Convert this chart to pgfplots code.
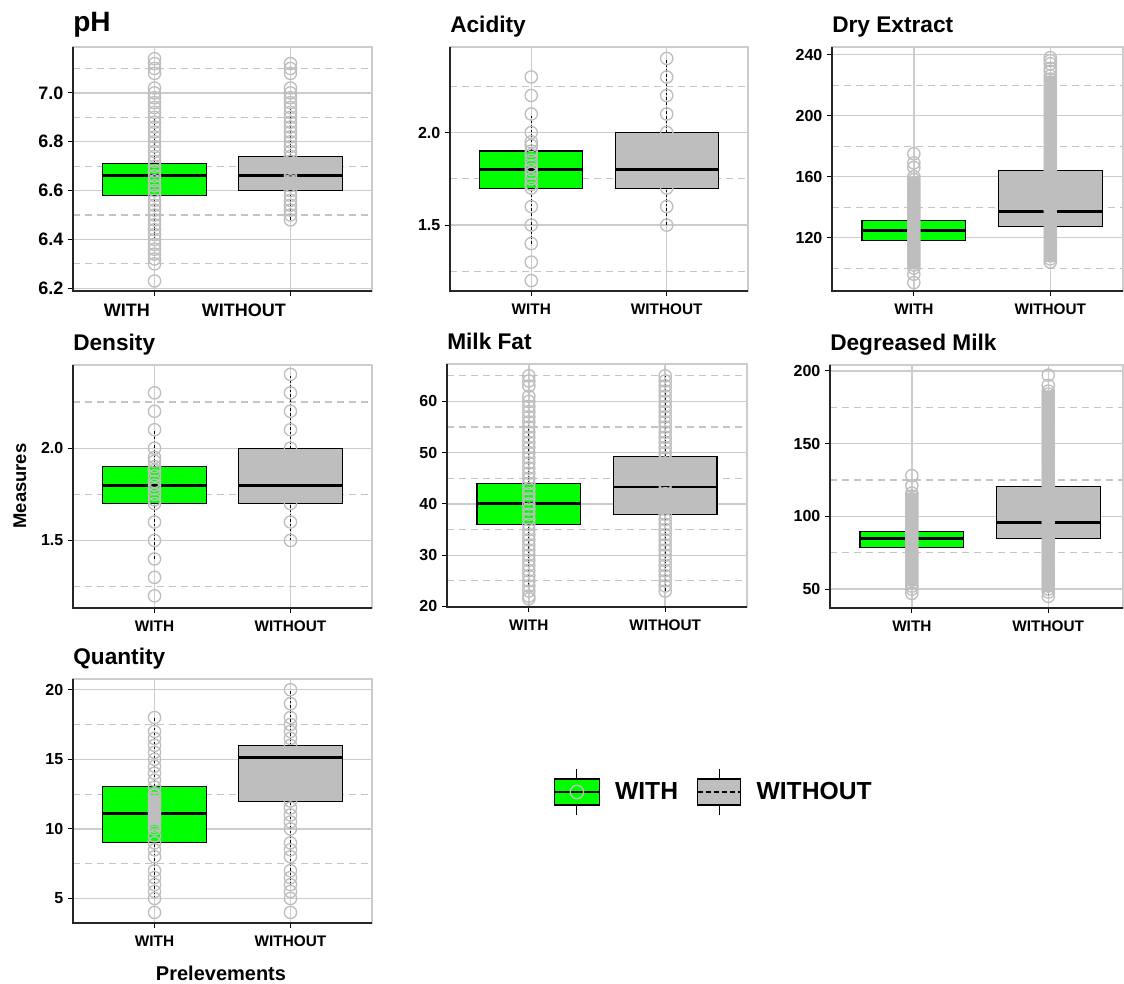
\documentclass[border=0pt]{standalone}
\usepackage{fontspec}
\setmainfont{Liberation Sans}
\usepackage{pgfplots}
\pgfplotsset{compat=1.18}
\definecolor{boxgreen}{HTML}{00FF00}
\definecolor{boxgray}{HTML}{BEBEBE}
\definecolor{ptc}{HTML}{BEBEBE}
\definecolor{gridc}{HTML}{CCCCCC}
\definecolor{gridd}{HTML}{C4C4C4}
\pgfplotsset{
 panel/.style={
  scale only axis, xmin=0.4, xmax=2.6, xtick={1,2}, xticklabels={WITH,WITHOUT},
  xmajorgrids, ymajorgrids, yminorgrids,
  major grid style={draw=gridc, line width=1.05pt},
  minor grid style={draw=gridd, line width=0.9pt, dash pattern=on 5pt off 4pt},
  axis line style={draw=gridc, line width=0.9pt},
  tick align=outside, xtick pos=bottom, ytick pos=left,
  major tick length=3.75pt, minor tick length=0pt,
  tick style={black, line width=0.8pt},
  /pgf/number format/assume math mode=true,
  yticklabel style={font=\bfseries\fontsize{12}{12}\selectfont},
  xticklabel style={font=\bfseries\fontsize{11.5}{11.5}\selectfont, yshift=-2.25pt},
  title style={at={(0,1)}, anchor=base west, yshift=4.5pt, inner sep=0pt, font=\bfseries\fontsize{17}{17}\selectfont},
  after end axis/.code={\draw[black!85, line width=1.4pt] (rel axis cs:0,1) -- (rel axis cs:0,0) -- (rel axis cs:1,0);},
 },
 pts/.style={only marks, mark=o, mark size=4.6pt, mark options={draw=ptc, line width=1pt, solid}},
 band/.style={ptc, line width=9pt},
}
% box: #1 left x, #2 centre x, #3 right x, #4 lower whisker, #5 lower quartile, #6 median, #7 upper quartile, #8 upper whisker, #9 fill
\newcommand{\bxp}[9]{%
 \addplot[black, line width=1pt, dash pattern=on 2pt off 1.5pt] coordinates {(#2,#4)(#2,#5)};
 \addplot[black, line width=1pt, dash pattern=on 2pt off 1.5pt] coordinates {(#2,#7)(#2,#8)};
 \addplot[fill=#9, draw=black, line width=0.8pt] coordinates {(#1,#5)(#3,#5)(#3,#7)(#1,#7)} --cycle;
 \addplot[black, line width=2.2pt] coordinates {(#1,#6)(#3,#6)};
}
\begin{document}
\begin{tikzpicture}
\path[use as bounding box] (0,0) rectangle (843pt,738pt);

% ---------------- pH ----------------
\begin{axis}[panel, at={(54.75pt,519.75pt)}, anchor=south west, width=224.25pt, height=183pt,
  ymin=6.189, ymax=7.188, ytick={6.2,6.4,6.6,6.8,7.0}, yticklabels={6.2,6.4,6.6,6.8,7.0},
  minor ytick={6.3,6.5,6.7,6.9,7.1},
  yticklabel style={font=\bfseries\fontsize{13.5}{13.5}\selectfont},
  xticklabel style={font=\bfseries\fontsize{13.5}{13.5}\selectfont, anchor=north east},
  title={pH}, title style={font=\bfseries\fontsize{21}{21}\selectfont, yshift=0.75pt}]
\bxp{0.62}{1}{1.38}{6.40}{6.58}{6.66}{6.71}{6.90}{boxgreen}
\bxp{1.62}{2}{2.38}{6.48}{6.60}{6.66}{6.74}{6.94}{boxgray}
\addplot[pts] coordinates {(1,6.23)(1,6.30)(1,6.32)(1,6.34)(1,6.36)(1,6.38)(1,6.40)(1,6.42)(1,6.44)(1,6.46)(1,6.48)(1,6.50)(1,6.52)(1,6.54)(1,6.56)(1,6.58)(1,6.60)(1,6.62)(1,6.64)(1,6.66)(1,6.68)(1,6.70)(1,6.72)(1,6.74)(1,6.76)(1,6.78)(1,6.80)(1,6.82)(1,6.84)(1,6.86)(1,6.88)(1,6.90)(1,6.92)(1,6.94)(1,6.96)(1,6.98)(1,7.00)(1,7.02)(1,7.08)(1,7.10)(1,7.12)(1,7.14)};
\addplot[pts] coordinates {(2,6.48)(2,6.50)(2,6.52)(2,6.54)(2,6.56)(2,6.58)(2,6.60)(2,6.62)(2,6.64)(2,6.66)(2,6.68)(2,6.70)(2,6.72)(2,6.74)(2,6.76)(2,6.78)(2,6.80)(2,6.82)(2,6.84)(2,6.86)(2,6.88)(2,6.90)(2,6.92)(2,6.94)(2,6.96)(2,6.98)(2,7.00)(2,7.02)(2,7.08)(2,7.10)(2,7.12)};
\end{axis}

% ---------------- Acidity ----------------
\begin{axis}[panel, at={(337.5pt,519.75pt)}, anchor=south west, width=223.5pt, height=183pt,
  ymin=1.144, ymax=2.462, ytick={1.5,2.0}, yticklabels={1.5,2.0}, minor ytick={1.25,1.75,2.25},
  title={Acidity}]
\bxp{0.62}{1}{1.38}{1.4}{1.7}{1.8}{1.9}{2.1}{boxgreen}
\bxp{1.62}{2}{2.38}{1.5}{1.7}{1.8}{2.0}{2.4}{boxgray}
\addplot[pts] coordinates {(1,1.2)(1,1.3)(1,1.4)(1,1.5)(1,1.6)(1,1.7)(1,1.72)(1,1.75)(1,1.78)(1,1.8)(1,1.82)(1,1.85)(1,1.88)(1,1.9)(1,1.93)(1,1.95)(1,2.0)(1,2.1)(1,2.2)(1,2.3)};
\addplot[pts] coordinates {(2,1.5)(2,1.6)(2,1.7)(2,2.0)(2,2.1)(2,2.2)(2,2.3)(2,2.4)};
\end{axis}

% ---------------- Dry Extract ----------------
\begin{axis}[panel, at={(624pt,519.75pt)}, anchor=south west, width=218.25pt, height=183pt, xmax=2.533,
  ymin=85, ymax=245, ytick={120,160,200,240}, yticklabels={120,160,200,240}, minor ytick={100,140,180,220},
  title={Dry Extract}]
\bxp{0.62}{1}{1.38}{100}{118}{124.5}{131.5}{150}{boxgreen}
\bxp{1.62}{2}{2.38}{104}{127.5}{137}{164}{219}{boxgray}
\addplot[band] coordinates {(1,100)(1,160)};
\addplot[band] coordinates {(2,104)(2,226)};
\addplot[pts] coordinates {(1,90.5)(1,96)(1,100)(1,102)(1,104)(1,106)(1,108)(1,110)(1,112)(1,114)(1,116)(1,118)(1,120)(1,122)(1,124)(1,126)(1,128)(1,130)(1,132)(1,134)(1,136)(1,138)(1,140)(1,142)(1,144)(1,146)(1,148)(1,150)(1,152)(1,154)(1,156)(1,158)(1,160)(1,166)(1,169)(1,175)};
\addplot[pts] coordinates {(2,104)(2,106)(2,108)(2,110)(2,112)(2,114)(2,116)(2,118)(2,120)(2,122)(2,124)(2,126)(2,128)(2,130)(2,132)(2,134)(2,136)(2,138)(2,140)(2,142)(2,144)(2,146)(2,148)(2,150)(2,152)(2,154)(2,156)(2,158)(2,160)(2,162)(2,164)(2,166)(2,168)(2,170)(2,172)(2,174)(2,176)(2,178)(2,180)(2,182)(2,184)(2,186)(2,188)(2,190)(2,192)(2,194)(2,196)(2,198)(2,200)(2,202)(2,204)(2,206)(2,208)(2,210)(2,212)(2,214)(2,216)(2,218)(2,220)(2,222)(2,224)(2,226)(2,229)(2,231)(2,234)(2,236)(2,238)};
\end{axis}

% ---------------- Density ----------------
\begin{axis}[panel, at={(54.75pt,282pt)}, anchor=south west, width=224.25pt, height=182.25pt,
  ymin=1.134, ymax=2.451, ytick={1.5,2.0}, yticklabels={1.5,2.0}, minor ytick={1.25,1.75,2.25},
  title={Density}]
\bxp{0.62}{1}{1.38}{1.4}{1.7}{1.8}{1.9}{2.1}{boxgreen}
\bxp{1.62}{2}{2.38}{1.5}{1.7}{1.8}{2.0}{2.4}{boxgray}
\addplot[pts] coordinates {(1,1.2)(1,1.3)(1,1.4)(1,1.5)(1,1.6)(1,1.7)(1,1.72)(1,1.75)(1,1.78)(1,1.8)(1,1.82)(1,1.85)(1,1.88)(1,1.9)(1,1.93)(1,1.95)(1,2.0)(1,2.1)(1,2.2)(1,2.3)};
\addplot[pts] coordinates {(2,1.5)(2,1.6)(2,1.7)(2,2.0)(2,2.1)(2,2.2)(2,2.3)(2,2.4)};
\end{axis}

% ---------------- Milk Fat ----------------
\begin{axis}[panel, at={(335.25pt,282.75pt)}, anchor=south west, width=225pt, height=182.25pt,
  ymin=19.9, ymax=67.3, ytick={20,30,40,50,60}, yticklabels={20,30,40,50,60}, minor ytick={25,35,45,55,65},
  title={Milk Fat}]
\bxp{0.62}{1}{1.38}{24}{36}{40.1}{44}{56}{boxgreen}
\bxp{1.62}{2}{2.38}{23}{38}{43.3}{49.2}{65}{boxgray}
\addplot[pts] coordinates {(1,21.5)(1,22)(1,23)(1,24)(1,25)(1,26)(1,27)(1,28)(1,29)(1,30)(1,31)(1,32)(1,33)(1,34)(1,35)(1,36)(1,37)(1,38)(1,39)(1,40)(1,41)(1,42)(1,43)(1,44)(1,45)(1,46)(1,47)(1,48)(1,49)(1,50)(1,51)(1,52)(1,53)(1,54)(1,55)(1,56)(1,57)(1,58)(1,59)(1,60)(1,61)(1,63)(1,64)(1,65)};
\addplot[pts] coordinates {(2,23)(2,24)(2,25)(2,26)(2,27)(2,28)(2,29)(2,30)(2,31)(2,32)(2,33)(2,34)(2,35)(2,36)(2,37)(2,38)(2,39)(2,40)(2,41)(2,42)(2,43)(2,44)(2,45)(2,46)(2,47)(2,48)(2,49)(2,50)(2,51)(2,52)(2,53)(2,54)(2,55)(2,56)(2,57)(2,58)(2,59)(2,60)(2,61)(2,62)(2,63)(2,64)(2,65)};
\end{axis}

% ---------------- Degreased Milk ----------------
\begin{axis}[panel, at={(622.5pt,282pt)}, anchor=south west, width=219.75pt, height=182.25pt, xmax=2.548,
  ymin=37, ymax=204, ytick={50,100,150,200}, yticklabels={50,100,150,200}, minor ytick={75,125,175},
  title={Degreased Milk}]
\bxp{0.62}{1}{1.38}{62}{78.3}{85}{89.5}{106}{boxgreen}
\bxp{1.62}{2}{2.38}{45}{84.5}{95.5}{120.5}{176}{boxgray}
\addplot[band] coordinates {(1,52)(1,116)};
\addplot[band] coordinates {(2,48)(2,186)};
\addplot[pts] coordinates {(1,47)(1,50)(1,52)(1,54)(1,56)(1,58)(1,60)(1,62)(1,64)(1,66)(1,68)(1,70)(1,72)(1,74)(1,76)(1,78)(1,80)(1,82)(1,84)(1,86)(1,88)(1,90)(1,92)(1,94)(1,96)(1,98)(1,100)(1,102)(1,104)(1,106)(1,108)(1,110)(1,112)(1,114)(1,116)(1,121)(1,128)};
\addplot[pts] coordinates {(2,45)(2,48)(2,50)(2,52)(2,54)(2,56)(2,58)(2,60)(2,62)(2,64)(2,66)(2,68)(2,70)(2,72)(2,74)(2,76)(2,78)(2,80)(2,82)(2,84)(2,86)(2,88)(2,90)(2,92)(2,94)(2,96)(2,98)(2,100)(2,102)(2,104)(2,106)(2,108)(2,110)(2,112)(2,114)(2,116)(2,118)(2,120)(2,122)(2,124)(2,126)(2,128)(2,130)(2,132)(2,134)(2,136)(2,138)(2,140)(2,142)(2,144)(2,146)(2,148)(2,150)(2,152)(2,154)(2,156)(2,158)(2,160)(2,162)(2,164)(2,166)(2,168)(2,170)(2,172)(2,174)(2,176)(2,178)(2,180)(2,182)(2,184)(2,186)(2,190)(2,197)};
\end{axis}

% ---------------- Quantity ----------------
\begin{axis}[panel, at={(54.75pt,45.75pt)}, anchor=south west, width=224.25pt, height=183pt,
  ymin=3.24, ymax=20.77, ytick={5,10,15,20}, yticklabels={5,10,15,20}, minor ytick={7.5,12.5,17.5},
  title={Quantity}]
\bxp{0.62}{1}{1.38}{5}{9.05}{11.1}{13.05}{18}{boxgreen}
\bxp{1.62}{2}{2.38}{6}{12}{15.1}{16}{20}{boxgray}
\addplot[band] coordinates {(1,10.3)(1,12.4)};
\addplot[pts] coordinates {(1,4)(1,5)(1,5.5)(1,6)(1,6.5)(1,7)(1,8)(1,8.5)(1,9)(1,9.5)(1,10)(1,10.2)(1,10.4)(1,10.6)(1,10.8)(1,11)(1,11.2)(1,11.4)(1,11.6)(1,11.8)(1,12)(1,12.2)(1,12.4)(1,12.5)(1,13)(1,13.5)(1,14)(1,14.5)(1,15)(1,15.5)(1,16)(1,16.5)(1,17)(1,18)};
\addplot[pts] coordinates {(2,4)(2,5)(2,5.5)(2,6)(2,6.5)(2,7)(2,8)(2,8.5)(2,9)(2,10)(2,10.5)(2,11)(2,11.5)(2,12)(2,16)(2,16.5)(2,17)(2,17.5)(2,18)(2,19)(2,20)};
\end{axis}

% ---------------- Legend ----------------
\begin{axis}[at={(414.75pt,144pt)}, anchor=west, scale only axis, width=5pt, height=5pt, hide axis,
  xmin=0, xmax=1, ymin=0, ymax=1, legend columns=2,
  legend style={at={(0,0.5)}, anchor=west, draw=none, fill=none, inner sep=0pt,
    font=\bfseries\fontsize{18.5}{18.5}\selectfont,
    /tikz/every odd column/.append style={column sep=9pt},
    /tikz/every even column/.append style={column sep=12pt}}]
\addlegendimage{legend image code/.code={
  \draw[black, line width=0.8pt] (16.9pt,9.75pt) -- (16.9pt,17pt);
  \draw[black, line width=0.8pt] (16.9pt,-9.75pt) -- (16.9pt,-17pt);
  \draw[black, fill=boxgreen, line width=0.8pt] (0pt,-9.75pt) rectangle (33.75pt,9.75pt);
  \draw[black, line width=1.6pt] (0pt,0pt) -- (33.75pt,0pt);
  \draw[ptc, line width=1pt] (16.9pt,0pt) circle (5pt);}}
\addlegendentry{WITH}
\addlegendimage{legend image code/.code={
  \draw[black, line width=0.8pt] (16.1pt,9.75pt) -- (16.1pt,17pt);
  \draw[black, line width=0.8pt] (16.1pt,-9.75pt) -- (16.1pt,-17pt);
  \draw[black, fill=boxgray, line width=0.8pt] (0pt,-9.75pt) rectangle (32.25pt,9.75pt);
  \draw[black, line width=1.6pt, dash pattern=on 4pt off 2pt] (0pt,0pt) -- (32.25pt,0pt);}}
\addlegendentry{WITHOUT}
\end{axis}

\node[rotate=90, font=\bfseries\fontsize{13.8}{13.8}\selectfont] at (15pt,373.5pt) {Measures};
\node[font=\bfseries\fontsize{15}{15}\selectfont] at (165.75pt,8.25pt) {Prelevements};
\end{tikzpicture}
\end{document}
